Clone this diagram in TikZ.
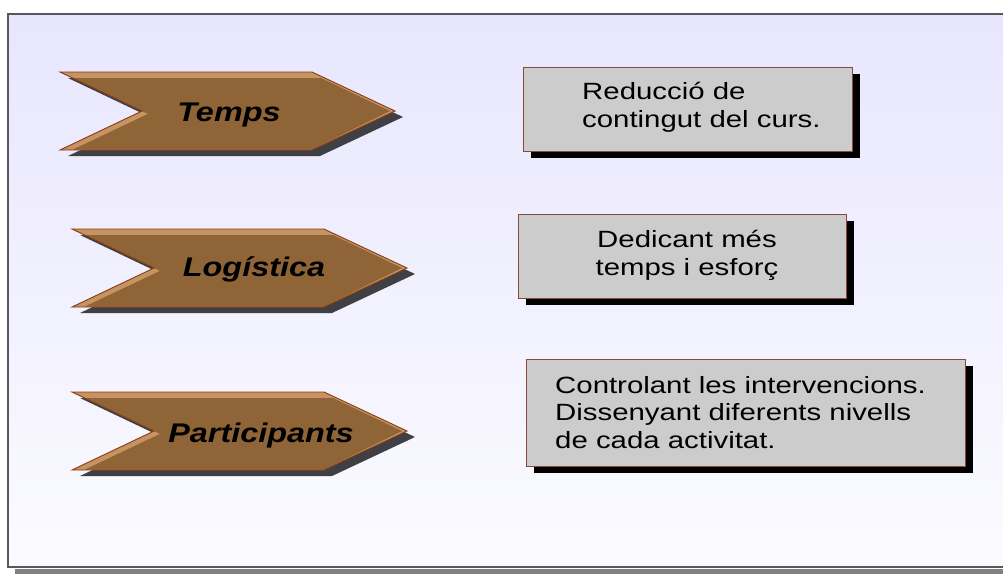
\documentclass[tikz,border=0pt]{standalone}
\usepackage{fontspec}
\setmainfont{Liberation Sans}
\newfontfamily\wfont[FakeStretch=1.25]{Liberation Sans}
\newfontfamily\cfont[FakeStretch=1.2]{Liberation Sans}
\usetikzlibrary{calc}
\definecolor{bgtop}{RGB}{232,230,254}
\definecolor{bgbot}{RGB}{251,251,255}
\definecolor{framec}{RGB}{88,88,92}
\definecolor{framesh}{RGB}{128,128,128}
\definecolor{chevbrown}{RGB}{143,100,54}
\definecolor{chevlight}{RGB}{199,147,99}
\definecolor{chevedge}{RGB}{138,59,18}
\definecolor{chevshadow}{RGB}{63,63,68}
\definecolor{boxfill}{RGB}{204,204,204}
\definecolor{boxedge}{RGB}{139,74,56}
\tikzset{
  chev/.pic={
    \fill[chevshadow] (8,6) -- (260,6) -- (343,45) -- (260,84) -- (8,84) -- (90,45) -- cycle;
    \fill[chevlight] (0,0) -- (252,0) -- (335,39) -- (252,78) -- (0,78) -- (82,39) -- cycle;
    \fill[chevbrown] (12.6,6) -- (261,6) -- (330,39) -- (252,77.5) -- (13,77.5) -- (88,41.9) -- cycle;
    \draw[chevedge, line width=0.9pt, line join=miter] (0,0) -- (252,0) -- (335,39) -- (252,78) -- (0,78) -- (82,39) -- cycle;
  },
  chevtext/.style={anchor=base, inner sep=0pt, font=\cfont\bfseries\itshape\fontsize{27}{32}\selectfont, text=black},
  tbox/.style={draw=boxedge, fill=boxfill, line width=0.9pt, inner sep=0pt,
    preaction={fill=black, transform canvas={shift={(8pt,-7pt)}}}},
  btext/.style={inner sep=0pt, font=\wfont\fontsize{23.5}{27.5}\selectfont, text=black}
}
\begin{document}
\begin{tikzpicture}[x=1pt,y=-1pt]
\useasboundingbox (0,0) rectangle (1003,574);
\fill[white] (0,0) rectangle (1003,574);
% background panel
\shade[top color=bgtop, bottom color=bgbot] (8,14) rectangle (1003,567);
\fill[framesh] (15,569) rectangle (1003,574);
\draw[framec, line width=1.8pt] (1003,14) -- (8,14) -- (8,567) -- (1003,567);

% chevrons
\pic at (60,72) {chev};
\pic at (72,229) {chev};
\pic at (72,392) {chev};
\node[chevtext] (c1) at (229,121) {Temps};
\node[chevtext] (c2) at (254,276) {Logística};
\node[chevtext] (c3) at (261,442) {Participants};

% boxes
\node[tbox, minimum width=329pt, minimum height=84pt] (b1) at (687.5,109) {};
\node[tbox, minimum width=328pt, minimum height=84pt] (b2) at (682,256) {};
\node[tbox, minimum width=439pt, minimum height=107pt] (b3) at (745.5,412.5) {};

\node[btext, align=left, anchor=north west] (t1) at (582,82) {Reducció de\\contingut del curs.};
\node[btext, align=center, anchor=north] (t2) at (687,230) {Dedicant més\\temps i esforç};
\node[btext, align=left, anchor=north west] (t3) at (555,376) {Controlant les intervencions.\\Dissenyant diferents nivells\\de cada activitat.};
\end{tikzpicture}
\end{document}
